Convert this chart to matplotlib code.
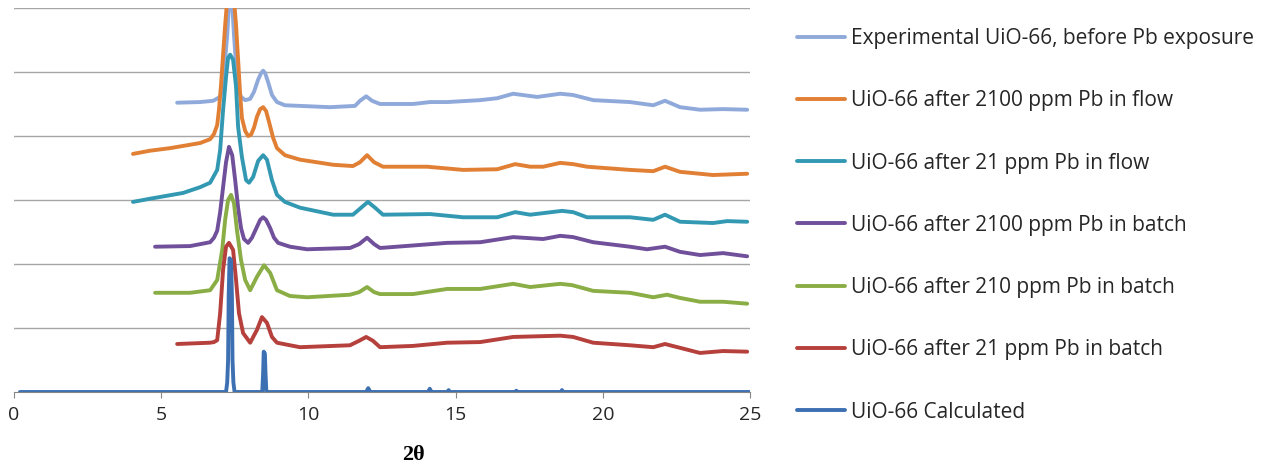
import matplotlib.pyplot as plt

# Diffractogrammes empilés (2θ en degrés, intensité décalée en u.a.)
exp_tt = [5.54, 6.32, 6.76, 7.00, 7.10, 7.17, 7.24, 7.30, 7.35, 7.41, 7.47, 7.54, 7.61, 7.71,
          7.85, 8.02, 8.15, 8.29, 8.39, 8.46, 8.53, 8.63, 8.76, 8.93, 9.20, 9.71, 10.73, 11.58,
          11.75, 11.96, 12.16, 12.43, 13.55, 14.13, 14.71, 15.83, 16.41, 16.95, 17.77, 18.55,
          18.99, 19.67, 20.92, 21.71, 22.11, 22.62, 23.30, 24.08, 24.90]
exp_i = [4.52, 4.53, 4.55, 4.61, 4.80, 5.19, 5.58, 6.05, 6.30, 6.05, 5.58, 5.11, 4.75, 4.61,
         4.56, 4.58, 4.69, 4.88, 4.98, 5.02, 4.98, 4.84, 4.64, 4.53, 4.48, 4.47, 4.45, 4.47,
         4.55, 4.62, 4.55, 4.50, 4.50, 4.53, 4.53, 4.56, 4.59, 4.66, 4.61, 4.66,
         4.64, 4.56, 4.53, 4.48, 4.55, 4.45, 4.41, 4.42, 4.41]

flow2100_tt = [4.04, 4.62, 5.30, 6.32, 6.66, 6.79, 6.90, 6.96, 7.03, 7.10, 7.17, 7.24, 7.36, 7.47,
               7.54, 7.61, 7.68, 7.74, 7.85, 7.95, 8.05, 8.15, 8.25, 8.36, 8.46, 8.56, 8.66,
               8.80, 8.93, 9.20, 9.71, 10.84, 11.51, 11.75, 11.99, 12.23, 12.53, 14.03, 15.25,
               16.41, 17.02, 17.53, 17.97, 18.55, 18.99, 19.46, 20.92, 21.71, 22.11, 22.62,
               23.74, 24.90]
flow2100_i = [3.72, 3.77, 3.81, 3.89, 3.95, 4.03, 4.17, 4.41, 4.80, 5.27, 5.73, 6.13, 6.50, 6.13,
              5.73, 5.19, 4.64, 4.28, 4.08, 4.00, 4.02, 4.13, 4.30, 4.42, 4.45, 4.39, 4.22,
              3.97, 3.81, 3.70, 3.63, 3.55, 3.53, 3.59, 3.70, 3.59, 3.52, 3.52, 3.47,
              3.48, 3.56, 3.52, 3.52, 3.58, 3.56, 3.52, 3.47, 3.45, 3.52, 3.44,
              3.39, 3.41]

flow21_tt = [4.04, 4.62, 5.74, 6.32, 6.66, 6.90, 7.00, 7.10, 7.20, 7.27, 7.34, 7.44, 7.54, 7.61,
             7.74, 7.88, 7.98, 8.12, 8.29, 8.46, 8.59, 8.76, 8.93, 9.20, 9.71, 10.84, 11.51,
             11.79, 12.02, 12.26, 12.53, 14.13, 15.25, 16.41, 17.02, 17.53, 18.61, 18.99, 19.46,
             20.92, 21.71, 22.11, 22.62, 23.74, 24.22, 24.90]
flow21_i = [2.97, 3.02, 3.11, 3.20, 3.27, 3.47, 3.78, 4.41, 4.92, 5.22, 5.27, 5.19, 4.77, 4.14,
            3.67, 3.31, 3.27, 3.36, 3.61, 3.70, 3.63, 3.31, 3.08, 2.97, 2.88, 2.77, 2.77,
            2.88, 2.97, 2.88, 2.77, 2.78, 2.73, 2.73, 2.81, 2.77, 2.83, 2.81, 2.73,
            2.73, 2.69, 2.77, 2.66, 2.64, 2.67, 2.66]

batch2100_tt = [4.79, 5.98, 6.66, 6.79, 6.90, 7.00, 7.10, 7.20, 7.30, 7.41, 7.51, 7.61, 7.71, 7.81,
                7.95, 8.08, 8.25, 8.36, 8.46, 8.56, 8.70, 8.83, 8.97, 9.37, 9.95, 11.41, 11.72,
                11.99, 12.23, 12.43, 14.71, 15.83, 16.95, 17.97, 18.55, 18.99, 19.67, 20.92,
                21.50, 22.11, 22.62, 23.30, 24.08, 24.90]
batch2100_i = [2.27, 2.28, 2.34, 2.41, 2.52, 2.81, 3.20, 3.59, 3.83, 3.70, 3.31, 2.88, 2.56, 2.39,
               2.33, 2.41, 2.58, 2.69, 2.73, 2.69, 2.56, 2.41, 2.33, 2.27, 2.23, 2.25, 2.31,
               2.41, 2.31, 2.25, 2.33, 2.34, 2.42, 2.39, 2.44, 2.42, 2.34, 2.27,
               2.23, 2.27, 2.19, 2.14, 2.17, 2.12]

batch210_tt = [4.79, 5.98, 6.66, 6.90, 7.07, 7.17, 7.27, 7.37, 7.47, 7.57, 7.71, 7.85, 8.02, 8.25,
               8.49, 8.70, 8.93, 9.37, 9.95, 11.41, 11.72, 11.99, 12.23, 12.43, 13.55, 14.71,
               15.83, 16.95, 17.53, 18.55, 18.95, 19.67, 20.92, 21.71, 22.18, 22.62, 23.30,
               24.08, 24.90]
batch210_i = [1.55, 1.55, 1.59, 1.75, 2.22, 2.69, 3.00, 3.08, 2.95, 2.53, 2.06, 1.75, 1.59, 1.80,
              1.98, 1.86, 1.59, 1.50, 1.48, 1.52, 1.56, 1.64, 1.56, 1.53, 1.53, 1.61,
              1.61, 1.69, 1.64, 1.69, 1.67, 1.58, 1.55, 1.48, 1.52, 1.47, 1.41,
              1.41, 1.38]

batch21_tt = [5.54, 6.66, 6.79, 6.90, 7.00, 7.10, 7.20, 7.30, 7.44, 7.54, 7.64, 7.78, 8.02, 8.25,
              8.42, 8.59, 8.76, 8.93, 9.71, 11.41, 11.72, 11.96, 12.19, 12.43, 13.55, 14.71,
              15.83, 16.95, 18.55, 18.99, 19.67, 20.92, 21.71, 22.11, 22.62, 23.30, 24.08, 24.90]
batch21_i = [0.75, 0.77, 0.78, 0.81, 1.23, 1.91, 2.27, 2.33, 2.22, 1.75, 1.23, 0.92, 0.77, 0.97,
             1.17, 1.08, 0.86, 0.77, 0.70, 0.73, 0.80, 0.86, 0.80, 0.70, 0.72, 0.77,
             0.78, 0.86, 0.88, 0.86, 0.77, 0.73, 0.70, 0.75, 0.69, 0.61, 0.64, 0.63]

calc_tt = [0.2, 7.20, 7.24, 7.27, 7.29, 7.32, 7.37, 7.40, 7.42, 7.45, 7.49,
           8.43, 8.46, 8.48, 8.52, 8.54, 8.57,
           11.96, 12.03, 12.10, 14.06, 14.12, 14.18, 14.72, 14.76, 14.80,
           17.02, 17.06, 17.10, 18.57, 18.61, 18.65, 25.0]
calc_i = [0, 0, 0.15, 0.50, 1.50, 2.09, 2.06, 1.50, 0.50, 0.15, 0,
          0, 0.30, 0.63, 0.60, 0.30, 0,
          0, 0.06, 0, 0, 0.05, 0, 0, 0.03, 0,
          0, 0.02, 0, 0, 0.03, 0, 0]

series = [
    (exp_tt, exp_i, 'Experimental UiO-66, before Pb exposure', '#8FAADA'),
    (flow2100_tt, flow2100_i, 'UiO-66 after 2100 ppm Pb in flow', '#E17F34'),
    (flow21_tt, flow21_i, 'UiO-66 after 21 ppm Pb in flow', '#3399B3'),
    (batch2100_tt, batch2100_i, 'UiO-66 after 2100 ppm Pb in batch', '#70509A'),
    (batch210_tt, batch210_i, 'UiO-66 after 210 ppm Pb in batch', '#8AAE45'),
    (batch21_tt, batch21_i, 'UiO-66 after 21 ppm Pb in batch', '#B5403C'),
    (calc_tt, calc_i, 'UiO-66 Calculated', '#3D70B2'),
]

plt.rcParams['font.family'] = ['Open Sans', 'DejaVu Sans']

fig = plt.figure(figsize=(12.77, 4.72), dpi=100)
ax = fig.add_axes([0.011, 0.1695, 0.5764, 0.8136])

lignes = []
for tt, inten, nom, coul in series:
    l, = ax.plot(tt, inten, color=coul, lw=2.8, label=nom,
                 solid_joinstyle='round', solid_capstyle='round')
    lignes.append(l)

ax.set_xlim(0, 25)
ax.set_ylim(0, 6)
ax.set_xticks([0, 5, 10, 15, 20, 25])
ax.set_yticks([1, 2, 3, 4, 5, 6])
ax.yaxis.grid(True, color='#A6A6A6', lw=1.0)
ax.set_axisbelow(True)
ax.tick_params(axis='y', length=0, labelleft=False)
ax.tick_params(axis='x', direction='out', length=4, color='#868686', labelsize=14,
               labelcolor='#262626', pad=6)
for cote in ['left', 'right', 'top']:
    ax.spines[cote].set_visible(False)
ax.spines['bottom'].set_color('#868686')

fig.text(413 / 1277, 1 - 455 / 472, '2θ', ha='center', va='center', fontsize=16,
         fontweight='bold', family=['Liberation Serif', 'DejaVu Serif'], color='#000000')

fig.legend(handles=lignes, loc='upper left', bbox_to_anchor=(797 / 1277, 1 - 28 / 472),
           frameon=False, fontsize=15, handlelength=2.3, handletextpad=0.29,
           labelspacing=1.98, borderaxespad=0, borderpad=0, labelcolor='#262626')

fig.savefig('out.png', dpi=100)
